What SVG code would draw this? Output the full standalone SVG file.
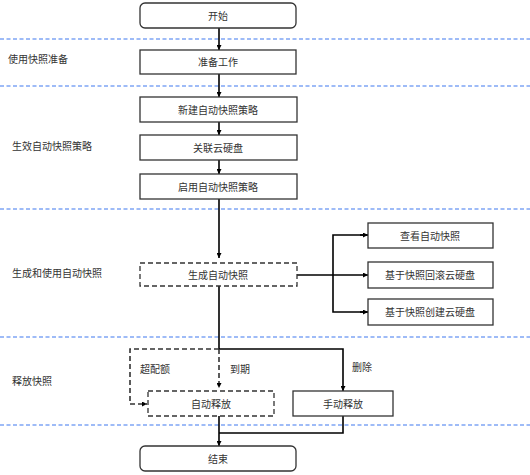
<svg xmlns="http://www.w3.org/2000/svg" width="530" height="475" viewBox="0 0 530 475">
<defs>
<style>
text{font-family:"Noto Sans CJK SC","Liberation Sans",sans-serif;font-size:10px;fill:#333}
.c{text-anchor:middle}
.box{fill:#fff;stroke:#333;stroke-width:1.3}
.dbox{fill:#fff;stroke:#333;stroke-width:1.3;stroke-dasharray:5 3}
.sep{stroke:#3f78f0;stroke-width:1.2;stroke-dasharray:4 2.5}
.ln{fill:none;stroke:#000;stroke-width:1.6}
.dl{fill:none;stroke:#333;stroke-width:1.6;stroke-dasharray:5 3}
</style>
<marker id="ah" viewBox="0 0 8 8" refX="8" refY="4" markerWidth="5" markerHeight="5" orient="auto" markerUnits="userSpaceOnUse">
<path d="M0,0 L8,4 L0,8 Z" fill="#000"/>
</marker>
</defs>
<rect width="530" height="475" fill="#fff"/>
<g id="separators">
<line class="sep" x1="0" y1="39" x2="530" y2="39"/>
<line class="sep" x1="0" y1="86" x2="530" y2="86"/>
<line class="sep" x1="0" y1="209" x2="530" y2="209"/>
<line class="sep" x1="0" y1="337" x2="530" y2="337"/>
<line class="sep" x1="0" y1="425" x2="530" y2="425"/>
</g>
<g id="lanes">
<text x="8" y="63">使用快照准备</text>
<text x="12" y="150">生效自动快照策略</text>
<text x="12" y="277">生成和使用自动快照</text>
<text x="12" y="385">释放快照</text>
</g>
<g id="connectors">
<line class="ln" x1="219" y1="28" x2="219" y2="50" marker-end="url(#ah)"/>
<line class="ln" x1="219" y1="74" x2="219" y2="97" marker-end="url(#ah)"/>
<line class="ln" x1="219" y1="122" x2="219" y2="135" marker-end="url(#ah)"/>
<line class="ln" x1="219" y1="160" x2="219" y2="174" marker-end="url(#ah)"/>
<line class="ln" x1="219" y1="199" x2="219" y2="258" marker-end="url(#ah)"/>
<line class="ln" x1="297" y1="275" x2="368" y2="275" marker-end="url(#ah)"/>
<polyline class="ln" points="368,235 333,235 333,312 368,312"/>
<line class="ln" x1="360" y1="235" x2="368" y2="235" marker-end="url(#ah)"/>
<line class="ln" x1="360" y1="312" x2="368" y2="312" marker-end="url(#ah)"/>
<polyline class="ln" points="219,286 219,349 343,349 343,391" marker-end="url(#ah)"/>
<polyline class="dl" points="219,349 219,388" marker-end="url(#ah)"/>
<polyline class="dl" points="219,349 130,349 130,404 147,404" marker-end="url(#ah)"/>
<polyline class="ln" points="343,416 343,433 219,433"/>
<line class="ln" x1="219" y1="416" x2="219" y2="446" marker-end="url(#ah)"/>
<text x="140" y="373">超配额</text>
<text x="230" y="373">到期</text>
<text x="352" y="371">删除</text>
</g>
<g id="n-start"><rect class="box" x="140" y="3" width="156" height="25" rx="5"/><text class="c" x="218" y="19.5">开始</text></g>
<g id="n-prep"><rect class="box" x="140" y="50" width="156" height="24"/><text class="c" x="218" y="66">准备工作</text></g>
<g id="n-new"><rect class="box" x="140" y="97" width="157" height="25"/><text class="c" x="218" y="113.5">新建自动快照策略</text></g>
<g id="n-assoc"><rect class="box" x="140" y="135" width="157" height="25"/><text class="c" x="218" y="151.5">关联云硬盘</text></g>
<g id="n-enable"><rect class="box" x="140" y="174" width="157" height="25"/><text class="c" x="218" y="190.5">启用自动快照策略</text></g>
<g id="n-gen"><rect class="dbox" x="140" y="263" width="157" height="23"/><text class="c" x="218" y="278.5">生成自动快照</text></g>
<g id="n-view"><rect class="box" x="368" y="223" width="125" height="25"/><text class="c" x="430" y="239.5">查看自动快照</text></g>
<g id="n-rollback"><rect class="box" x="368" y="262" width="125" height="26"/><text class="c" x="430" y="279">基于快照回滚云硬盘</text></g>
<g id="n-create"><rect class="box" x="368" y="299" width="125" height="26"/><text class="c" x="430" y="316">基于快照创建云硬盘</text></g>
<g id="n-auto"><rect class="dbox" x="148" y="391" width="126" height="25"/><text class="c" x="211" y="407.5">自动释放</text></g>
<g id="n-manual"><rect class="box" x="293" y="391" width="100" height="25"/><text class="c" x="343" y="407.5">手动释放</text></g>
<g id="n-end"><rect class="box" x="140" y="446" width="156" height="25" rx="5"/><text class="c" x="218" y="462.5">结束</text></g>
</svg>
